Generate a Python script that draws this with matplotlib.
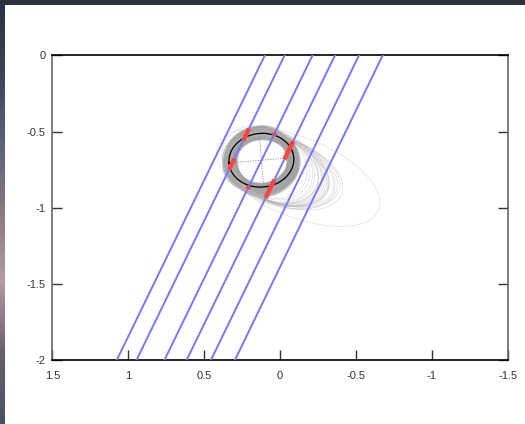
#!/usr/bin/env python3

import numpy as np
import matplotlib
matplotlib.use("Agg")
import matplotlib.pyplot as plt
from matplotlib.colors import LinearSegmentedColormap

# chords: x where each track crosses y=0 and y=-2
chord_x_top = [0.100, -0.030, -0.214, -0.362, -0.520, -0.676]
chord_x_bottom = [1.076, 0.946, 0.762, 0.616, 0.456, 0.298]

# timing segments (chord index, y start, y end)
seg_chord = [1, 1, 2, 2, 3, 3]
seg_y0 = [-0.481, -0.677, -0.507, -0.859, -0.562, -0.815]
seg_y1 = [-0.557, -0.750, -0.525, -0.877, -0.682, -0.936]

# best fit ellipse: centre x, centre y, semi axes, angle (deg)
fit = (0.123, -0.688, 0.214, 0.176, -4.9)

# monte carlo fits close to the best one
core_cx = [0.12, 0.13, 0.11, 0.12, 0.10, 0.14, 0.11, 0.13, 0.12, 0.10,
           0.12, 0.14, 0.11, 0.13, 0.11, 0.12, 0.13, 0.11, 0.12, 0.11,
           0.12, 0.13, 0.11, 0.14, 0.11, 0.12, 0.13, 0.11, 0.12, 0.12,
           0.13, 0.11, 0.12, 0.14, 0.11, 0.12, 0.13, 0.11, 0.12, 0.12]
core_cy = [-0.69, -0.68, -0.70, -0.69, -0.70, -0.67, -0.71, -0.69, -0.68, -0.71,
           -0.70, -0.68, -0.69, -0.70, -0.68, -0.71, -0.67, -0.71, -0.69, -0.70,
           -0.69, -0.70, -0.69, -0.69, -0.68, -0.70, -0.71, -0.69, -0.68, -0.70,
           -0.69, -0.68, -0.67, -0.70, -0.71, -0.69, -0.68, -0.70, -0.71, -0.67]
core_a = [0.18, 0.225, 0.18, 0.235, 0.195, 0.205, 0.215, 0.18, 0.225, 0.215,
          0.19, 0.215, 0.225, 0.205, 0.185, 0.235, 0.195, 0.205, 0.215, 0.225,
          0.23, 0.215, 0.205, 0.215, 0.205, 0.22, 0.225, 0.215, 0.18, 0.185,
          0.24, 0.195, 0.205, 0.23, 0.225, 0.19, 0.20, 0.235, 0.21, 0.215]
core_b = [0.16, 0.195, 0.17, 0.175, 0.195, 0.185, 0.165, 0.205, 0.175, 0.185,
          0.16, 0.205, 0.185, 0.175, 0.195, 0.185, 0.185, 0.175, 0.195, 0.165,
          0.195, 0.18, 0.20, 0.17, 0.19, 0.175, 0.195, 0.185, 0.175, 0.155,
          0.205, 0.21, 0.195, 0.185, 0.205, 0.18, 0.20, 0.19, 0.21, 0.175]
core_ang = [0, -5, 10, -4, 15, -10, 5, -15, 20, 0,
            -8, 8, -12, 12, 0, -2, 25, -20, 6, -6,
            3, -3, 18, -18, 30, -25, 10, -10, 5, -5,
            0, -8, 14, -14, 4, -22, 22, -1, 9, -9]

# runs stretched towards the lower right
fan_cx = [0.02, 0.00, 0.03, -0.02, 0.01, 0.04, -0.01, 0.02, 0.00, 0.03,
          0.05, 0.06, 0.01, -0.03, 0.04, 0.02, 0.05, -0.01, 0.03, 0.07,
          0.13, 0.14]
fan_cy = [-0.75, -0.76, -0.74, -0.76, -0.75, -0.74, -0.77, -0.76, -0.75, -0.73,
          -0.73, -0.72, -0.74, -0.77, -0.75, -0.74, -0.74, -0.76, -0.76, -0.72,
          -0.68, -0.67]
fan_a = [0.34, 0.37, 0.32, 0.39, 0.35, 0.31, 0.38, 0.36, 0.33, 0.30,
         0.28, 0.27, 0.35, 0.40, 0.30, 0.33, 0.29, 0.37, 0.32, 0.26,
         0.25, 0.245]
fan_b = [0.21, 0.21, 0.215, 0.21, 0.215, 0.215, 0.22, 0.21, 0.215, 0.22,
         0.215, 0.21, 0.22, 0.215, 0.21, 0.22, 0.215, 0.22, 0.215, 0.205,
         0.215, 0.21]
fan_ang = [22, 20, 24, 19, 23, 26, 18, 21, 25, 28,
           30, 32, 24, 20, 20, 27, 24, 22, 18, 30,
           -10, 15]

# one far-off run
out_fit = (-0.12, -0.80, 0.57, 0.26, 22)

xticks = [1.5, 1, 0.5, 0, -0.5, -1, -1.5]
xtick_labels = ["1.5", "1", "0.5", "0", "-0.5", "-1", "-1.5"]
yticks = [0, -0.5, -1, -1.5, -2]
ytick_labels = ["0", "-0.5", "-1", "-1.5", "-2"]


def ellipse_xy(cx, cy, a, b, ang, n=240):
    t = np.linspace(0, 2 * np.pi, n)
    th = np.radians(ang)
    x = cx + a * np.cos(t) * np.cos(th) - b * np.sin(t) * np.sin(th)
    y = cy + a * np.cos(t) * np.sin(th) + b * np.sin(t) * np.cos(th)
    return x, y


plt.rcParams["font.family"] = ["Liberation Sans", "DejaVu Sans"]
fig = plt.figure(figsize=(5.25, 4.24), dpi=100)
fig.patch.set_facecolor("#2b3342")

# photo-ish strip on the left and top, white card on top of it
bg = fig.add_axes([0, 0, 1, 1], zorder=-2)
sky = LinearSegmentedColormap.from_list(
    "sky", ["#2a3240", "#3a4458", "#5a6278", "#8a7a80", "#b49aa4", "#6a6070", "#4a5266"])
bg.imshow(np.linspace(0, 1, 100).reshape(-1, 1), aspect="auto", cmap=sky,
          extent=[0, 1, 0, 1])
bg.axis("off")
card = fig.add_axes([5 / 525, 0, 1 - 5 / 525, 1 - 5 / 424], zorder=-1)
card.set_facecolor("white")
card.set_xticks([])
card.set_yticks([])
for s in card.spines.values():
    s.set_visible(False)

ax = fig.add_axes([52.3 / 525, 1 - 360.3 / 424, 455.5 / 525, 305 / 424])
ax.set_facecolor("none")

for cx, cy, a, b, ang in zip(core_cx, core_cy, core_a, core_b, core_ang):
    x, y = ellipse_xy(cx, cy, a, b, ang)
    ax.plot(x, y, color="#a2a2a2", lw=2.6, alpha=0.55, zorder=1)

for cx, cy, a, b, ang in zip(fan_cx, fan_cy, fan_a, fan_b, fan_ang):
    x, y = ellipse_xy(cx, cy, a, b, ang)
    ax.plot(x, y, color="#b4b4b4", lw=0.5, alpha=0.45, zorder=1)

x, y = ellipse_xy(*out_fit)
ax.plot(x, y, color="#c4c4c4", lw=0.5, alpha=0.5, zorder=1)

x, y = ellipse_xy(*fit)
ax.plot(x, y, color="black", lw=0.9, zorder=3)
cx, cy, a, b, ang = fit
th = np.radians(ang)
ax.plot([cx - a * np.cos(th), cx + a * np.cos(th)],
        [cy - a * np.sin(th), cy + a * np.sin(th)],
        color="#888888", lw=0.6, ls=(0, (1.5, 1.5)), zorder=2)
ax.plot([cx + b * np.sin(th), cx - b * np.sin(th)],
        [cy - b * np.cos(th), cy + b * np.cos(th)],
        color="#888888", lw=0.6, ls=(0, (1.5, 1.5)), zorder=2)

for xt, xb in zip(chord_x_top, chord_x_bottom):
    ax.plot([xt, xb], [0, -2], color="#7777ff", lw=1.4, zorder=4)

for i, y0, y1 in zip(seg_chord, seg_y0, seg_y1):
    xt, xb = chord_x_top[i], chord_x_bottom[i]
    xs = [xt + (xb - xt) * (-y0) / 2, xt + (xb - xt) * (-y1) / 2]
    ax.plot(xs, [y0, y1], color="#ff4444", lw=3.2, solid_capstyle="butt", zorder=5)

ax.set_xlim(1.5, -1.5)
ax.set_ylim(-2, 0)
ax.set_xticks(xticks)
ax.set_xticklabels(xtick_labels)
ax.set_yticks(yticks)
ax.set_yticklabels(ytick_labels)
ax.tick_params(direction="in", length=7, width=1, labelsize=8, pad=5,
               colors="#333333", right=True, top=False)
ax.tick_params(axis="x", pad=8)
for name, s in ax.spines.items():
    s.set_linewidth(1.2)
    s.set_color("black" if name in ("top", "bottom") else "#666666")

fig.savefig("out.png", dpi=100)
